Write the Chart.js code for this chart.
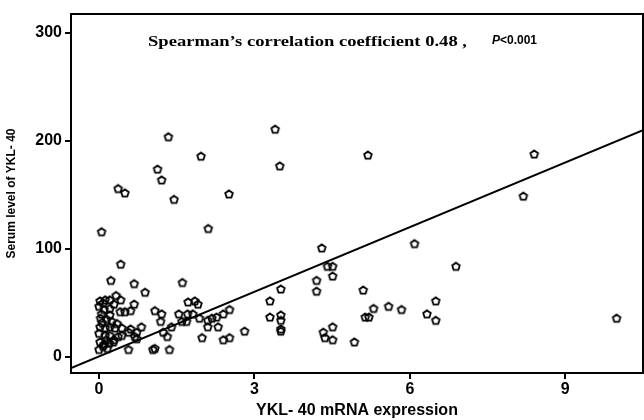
<!DOCTYPE html>
<html>
<head>
<meta charset="utf-8">
<script src="https://cdn.jsdelivr.net/npm/chart.js@4"></script>
<style>
body { margin: 0; background: #fff; }
#wrap { width: 644px; height: 420px; position: relative; }
</style>
</head>
<body>
<div id="wrap"><canvas id="scatterChart"></canvas></div>
<script>
// YKL-40 mRNA expression (x) vs serum level (y)
const mrnaValues = [
    1.34, 1.97, 1.13, 1.21, 0.37, 0.50, 1.45, 2.51, 0.05, 2.11,
    3.40, 3.49, 5.19, 4.30, 6.09, 8.40, 8.19, 6.89, 9.99, 4.41,
    4.51, 4.51, 4.20, 4.20, 3.51, 3.30, 3.30, 3.51, 3.51, 3.51,
    3.51, 5.10, 5.30, 5.14, 5.21, 5.59, 5.84, 6.33, 6.50, 6.50,
    4.51, 4.33, 4.36, 4.51, 4.93, 2.81, 0.42, 0.23, 0.68, 0.89,
    1.61, 1.72, 1.85, 1.91, 1.54, 1.08, 1.21, 1.19, 0.68, 0.41,
    0.50, 0.61, 1.71, 1.81, 1.94, 2.10, 2.18, 2.27, 2.40, 2.52,
    1.69, 1.40, 1.24, 1.32, 2.10, 2.30, 1.99, 2.40, 2.52, 0.57,
    1.04, 1.08, 1.36, 0.82, 0.73, 0.73, 0.61, 0.57, 0.44, 0.29,
    1.60, 0.00, 0.12, 0.21, 0.33, 0.42, 0.29, 0.05, 0.21, 0.21,
    0.03, 0.02, 0.12, 0.21, 0.31, 0.44, 0.00, 0.12, 0.21, 0.37,
    0.69, 0.02, 0.14, 0.20, 0.28, 0.00, 0.08, 0.16, 0.10, 0.02,
    0.08, 0.10, 0.15, 0.06, 0.25, 0.35
];
const serumValues = [
    204, 186, 174, 164, 156, 152, 146, 151, 116, 119,
    211, 177, 187, 101, 105, 188, 149, 84, 36, 84,
    84, 75, 71, 61, 63, 52, 37, 39, 34, 26,
    24, 62, 45, 37, 37, 47, 44, 40, 52, 34,
    28, 23, 18, 16, 14, 24, 86, 71, 68, 60,
    69, 51, 52, 49, 40, 43, 40, 33, 49, 42,
    42, 43, 40, 40, 36, 34, 36, 37, 40, 44,
    33, 28, 23, 19, 28, 28, 18, 16, 18, 7,
    7, 8, 7, 28, 23, 17, 26, 23, 20, 16,
    33, 47, 53, 53, 57, 53, 49, 40, 45, 39,
    36, 28, 27, 28, 27, 27, 22, 20, 20, 19,
    19, 14, 16, 13, 14, 7, 10, 8, 12, 52,
    50, 44, 35, 32, 33, 31
];

// fitted line, end points read at the plot edges
const fitLineX = [-0.54, 10.5];
const fitLineY = [-10.2, 210];

const xTickValues = [0, 3, 6, 9];
const yTickValues = [0, 100, 200, 300];

const xTitle = 'YKL- 40 mRNA expression';
const yTitle = 'Serum level of YKL- 40';
const noteText = 'Spearman\u2019s correlation coefficient 0.48 ,';
const noteP = '<0.001';

function makePentagon() {
    const c = document.createElement('canvas');
    c.width = 12;
    c.height = 12;
    const g = c.getContext('2d');
    g.beginPath();
    for (let i = 0; i < 5; i++) {
        const ang = -Math.PI / 2 + i * 2 * Math.PI / 5;
        const px = 6 + 4 * Math.cos(ang);
        const py = 6.4 + 4 * Math.sin(ang);
        if (i === 0) g.moveTo(px, py); else g.lineTo(px, py);
    }
    g.closePath();
    g.lineWidth = 1.8;
    g.strokeStyle = '#000';
    g.stroke();
    return c;
}

const framePlugin = {
    id: 'frame',
    afterDraw(chart) {
        const { ctx, chartArea: a } = chart;
        ctx.save();
        ctx.strokeStyle = '#000';
        ctx.lineWidth = 2;
        ctx.beginPath();
        ctx.moveTo(a.left, a.top);
        ctx.lineTo(a.right, a.top);
        ctx.lineTo(a.right, a.bottom);
        ctx.stroke();

        // correlation note inside the plot
        ctx.fillStyle = '#000';
        ctx.textBaseline = 'middle';
        ctx.font = 'bold 14px "Liberation Serif", "DejaVu Serif", serif';
        const w = ctx.measureText(noteText).width;
        ctx.save();
        ctx.translate(148, 42);
        ctx.scale(319 / w, 1);
        ctx.fillText(noteText, 0, 0);
        ctx.restore();
        ctx.font = 'italic bold 12px "Liberation Sans", Arial, sans-serif';
        ctx.fillText('P', 492, 41);
        const pw = ctx.measureText('P').width;
        ctx.font = 'bold 12px "Liberation Sans", Arial, sans-serif';
        ctx.fillText(noteP, 492 + pw, 41);
        ctx.restore();
    }
};

const axisFont = { family: '"Liberation Sans", Arial, sans-serif', weight: 'bold', size: 16 };

const ctx = document.getElementById('scatterChart').getContext('2d');
new Chart(ctx, {
    type: 'scatter',
    data: {
        datasets: [
            {
                label: 'fit',
                type: 'line',
                data: fitLineX.map((x, i) => ({ x: x, y: fitLineY[i] })),
                borderColor: '#000',
                borderWidth: 2,
                pointRadius: 0,
                fill: false
            },
            {
                label: 'cases',
                data: mrnaValues.map((x, i) => ({ x: x, y: serumValues[i] })),
                pointStyle: makePentagon(),
                pointRadius: 5,
                borderColor: '#000',
                backgroundColor: 'transparent'
            }
        ]
    },
    options: {
        responsive: true,
        maintainAspectRatio: false,
        animation: false,
        layout: { autoPadding: false, padding: { top: 14, right: 1, left: 0, bottom: 0 } },
        plugins: {
            legend: { display: false },
            tooltip: { enabled: false }
        },
        scales: {
            x: {
                type: 'linear',
                min: -0.54,
                max: 10.5,
                afterBuildTicks: s => { s.ticks = xTickValues.map(v => ({ value: v })); },
                afterFit: s => { s.height = 47; s.paddingRight = 0; s.paddingLeft = 0; },
                ticks: { color: '#000', font: axisFont, padding: 1 },
                grid: { drawOnChartArea: false, drawTicks: true, tickLength: 6, color: '#000', lineWidth: 2 },
                border: { color: '#000', width: 2 },
                title: {
                    display: true,
                    text: xTitle,
                    color: '#000',
                    font: axisFont,
                    padding: { top: 0, bottom: 0 }
                }
            },
            y: {
                type: 'linear',
                min: -14.8,
                max: 317.6,
                afterBuildTicks: s => { s.ticks = yTickValues.map(v => ({ value: v })); },
                afterFit: s => { s.width = 71; s.paddingTop = 0; s.paddingBottom = 0; },
                ticks: { color: '#000', font: axisFont, padding: 3 },
                grid: { drawOnChartArea: false, drawTicks: true, tickLength: 6, color: '#000', lineWidth: 2 },
                border: { color: '#000', width: 2 },
                title: {
                    display: true,
                    text: yTitle,
                    color: '#000',
                    font: { family: '"Liberation Sans", Arial, sans-serif', weight: 'bold', size: 12 },
                    padding: { top: 4, bottom: 4 }
                }
            }
        }
    },
    plugins: [framePlugin]
});
</script>
</body>
</html>
